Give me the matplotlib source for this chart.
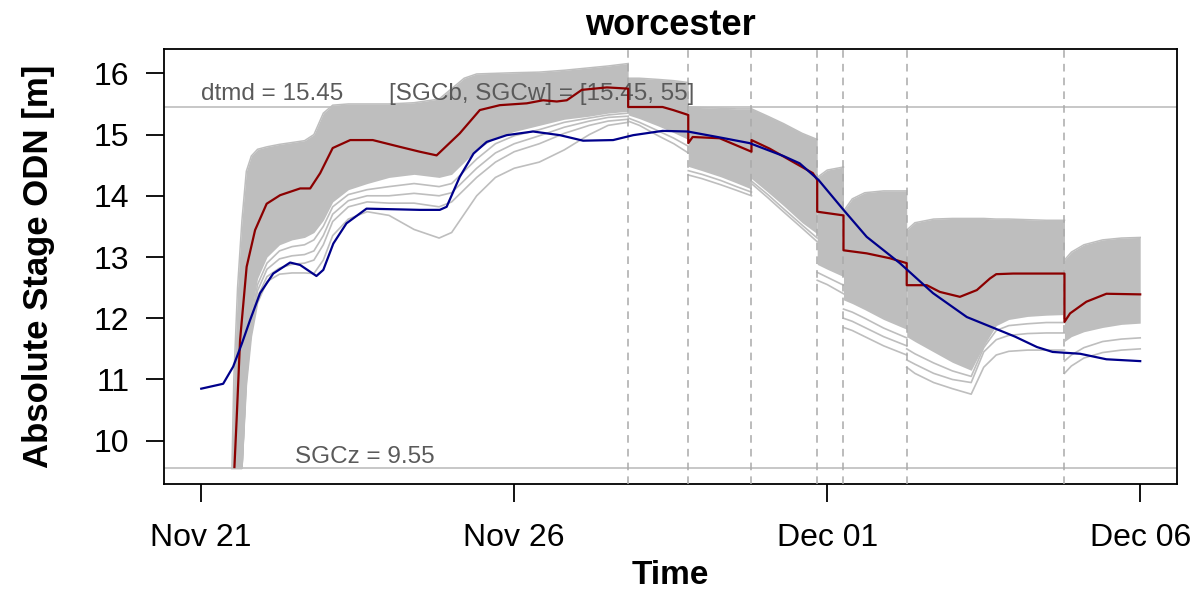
import numpy as np
import matplotlib
matplotlib.use('Agg')
from matplotlib import pyplot as plt
import matplotlib.dates as mdates
from datetime import datetime

plt.rcParams['font.family'] = ['Liberation Sans', 'DejaVu Sans']

start = datetime(2012, 11, 21)
tick_dates = [datetime(2012, 11, 21), datetime(2012, 11, 26), datetime(2012, 12, 1), datetime(2012, 12, 6)]

# days since Nov 21 00:00
forecast_days = [6.82, 7.78, 8.79, 9.84, 10.26, 11.27, 13.79]
dtmd = 15.45
sgcz = 9.55

# observed stage (blue)
obs_t = [0.0, 0.35, 0.51, 0.65, 0.78, 0.94, 1.15, 1.42, 1.58, 1.84, 1.95, 2.11, 2.32, 2.64, 3.07, 3.49,
         3.81, 3.92, 4.13, 4.35, 4.56, 4.88, 5.3, 5.73, 6.1, 6.58, 6.9, 7.37, 7.77, 8.3, 8.76, 9.3,
         9.56, 9.86, 10.26, 10.63, 11.16, 11.69, 12.23, 12.76, 13.0, 13.35, 13.6, 14.04, 14.46, 15.0]
obs_v = [10.85, 10.93, 11.21, 11.59, 11.97, 12.41, 12.73, 12.91, 12.87, 12.69, 12.79, 13.22, 13.55, 13.79, 13.78, 13.77,
         13.77, 13.82, 14.31, 14.69, 14.88, 14.99, 15.05, 14.99, 14.90, 14.91, 14.99, 15.06, 15.05, 14.95, 14.86, 14.65,
         14.53, 14.26, 13.77, 13.33, 12.9, 12.41, 12.02, 11.8, 11.7, 11.53, 11.45, 11.42, 11.33, 11.30]

# forecast median (red)
med_t = [0.53, 0.565, 0.62, 0.725, 0.86, 1.045, 1.26, 1.58, 1.74, 1.9, 2.1, 2.38, 2.74, 3.17, 3.49, 3.76,
         4.13, 4.45, 4.77, 5.2, 5.46, 5.68, 5.84, 6.08, 6.48, 6.82, 6.82, 7.11, 7.37, 7.54, 7.78, 7.78,
         7.85, 8.28, 8.79, 8.79, 9.08, 9.77, 9.84, 9.84, 10.26, 10.26, 10.63, 11.0, 11.27, 11.27, 11.59, 11.8,
         12.12, 12.39, 12.6, 12.7, 12.97, 13.79, 13.79, 13.88, 14.14, 14.46, 15.0]
med_v = [9.57, 10.34, 11.64, 12.84, 13.44, 13.87, 14.01, 14.12, 14.12, 14.37, 14.78, 14.91, 14.91, 14.80, 14.72, 14.66,
         15.02, 15.40, 15.48, 15.51, 15.56, 15.54, 15.56, 15.73, 15.77, 15.75, 15.45, 15.45, 15.45, 15.40, 15.32, 14.86,
         14.96, 14.94, 14.72, 14.91, 14.77, 14.37, 14.26, 13.74, 13.68, 13.11, 13.06, 12.98, 12.90, 12.54, 12.54, 12.43,
         12.35, 12.46, 12.65, 12.72, 12.73, 12.73, 11.94, 12.08, 12.27, 12.40, 12.39]

# ensemble forecasts: upper / lower edge of dense band, plus lower members
t0 = [0.49, 0.52, 0.58, 0.65, 0.72, 0.80, 0.90, 1.05, 1.25, 1.45, 1.65, 1.80, 1.95, 2.10, 2.35,
      2.65, 3.00, 3.40, 3.80, 4.00, 4.20, 4.40, 4.70, 5.00, 5.40, 5.80, 6.20, 6.50, 6.82]
up0 = [9.55, 11.0, 12.5, 13.6, 14.4, 14.65, 14.76, 14.80, 14.84, 14.87, 14.90, 15.0, 15.35, 15.48, 15.5,
       15.5, 15.5, 15.52, 15.58, 15.75, 15.92, 15.99, 16.0, 16.01, 16.02, 16.05, 16.09, 16.12, 16.16]
lo0 = [9.55, 9.55, 9.55, 9.55, 11.2, 12.1, 12.65, 13.0, 13.2, 13.28, 13.32, 13.4, 13.6, 13.9, 14.1,
       14.2, 14.3, 14.35, 14.3, 14.35, 14.55, 14.75, 14.95, 15.05, 15.15, 15.25, 15.3, 15.35, 15.38]
m0d = [9.55, 9.55, 9.55, 9.55, 11.15, 12.0, 12.55, 12.9, 13.1, 13.17, 13.2, 13.28, 13.5, 13.82, 14.02,
       14.1, 14.15, 14.2, 14.15, 14.2, 14.4, 14.6, 14.85, 14.98, 15.08, 15.2, 15.27, 15.32, 15.35]
m0c = [9.55, 9.55, 9.55, 9.55, 11.1, 11.9, 12.45, 12.8, 12.97, 13.02, 13.04, 13.1, 13.35, 13.7, 13.92,
       14.0, 14.0, 14.04, 14.0, 14.05, 14.25, 14.45, 14.7, 14.85, 14.98, 15.12, 15.22, 15.28, 15.3]
m0b = [9.55, 9.55, 9.55, 9.55, 11.0, 11.8, 12.35, 12.68, 12.82, 12.88, 12.9, 12.95, 13.2, 13.58, 13.82,
       13.9, 13.88, 13.88, 13.82, 13.9, 14.1, 14.3, 14.55, 14.72, 14.85, 15.02, 15.15, 15.22, 15.25]
m0a = [9.55, 9.55, 9.55, 9.55, 10.9, 11.7, 12.25, 12.6, 12.72, 12.74, 12.74, 12.73, 12.95, 13.35, 13.62,
       13.74, 13.68, 13.45, 13.31, 13.4, 13.7, 14.0, 14.3, 14.45, 14.55, 14.75, 15.0, 15.15, 15.2]

t1 = [6.82, 7.0, 7.3, 7.55, 7.78]
up1 = [15.92, 15.92, 15.9, 15.88, 15.85]
lo1 = [15.32, 15.26, 15.14, 15.03, 14.92]
m1a = [15.22, 15.15, 14.98, 14.85, 14.7]
m1b = [15.27, 15.2, 15.06, 14.94, 14.81]

t2 = [7.78, 8.0, 8.3, 8.55, 8.79]
up2 = [15.45, 15.44, 15.43, 15.42, 15.42]
lo2 = [14.48, 14.41, 14.31, 14.21, 14.11]
m2a = [14.34, 14.28, 14.18, 14.09, 14.0]
m2b = [14.41, 14.35, 14.25, 14.15, 14.06]

t3 = [8.79, 9.05, 9.3, 9.6, 9.84]
up3 = [15.42, 15.3, 15.18, 15.02, 14.92]
lo3 = [14.28, 14.06, 13.84, 13.56, 13.38]
m3a = [14.2, 13.97, 13.74, 13.47, 13.25]
m3b = [14.24, 14.02, 13.79, 13.52, 13.31]

t4 = [9.84, 10.0, 10.26]
up4 = [14.3, 14.42, 14.47]
lo4 = [12.88, 12.8, 12.68]
m4a = [12.62, 12.55, 12.4]
m4b = [12.75, 12.67, 12.54]

t5 = [10.26, 10.4, 10.6, 10.9, 11.27]
up5 = [13.75, 13.95, 14.05, 14.08, 14.08]
lo5 = [12.3, 12.24, 12.14, 11.98, 11.82]
m5a = [11.85, 11.8, 11.7, 11.55, 11.4]
m5b = [12.0, 11.95, 11.85, 11.7, 11.55]
m5c = [12.15, 12.1, 12.0, 11.84, 11.68]

t6 = [11.27, 11.4, 11.7, 12.0, 12.3, 12.5, 12.7, 12.9, 13.2, 13.5, 13.79]
up6 = [13.44, 13.56, 13.62, 13.63, 13.63, 13.63, 13.62, 13.62, 13.61, 13.6, 13.6]
lo6 = [11.7, 11.62, 11.45, 11.28, 11.15, 11.55, 11.88, 11.98, 12.03, 12.05, 12.06]
m6a = [11.2, 11.1, 10.95, 10.85, 10.76, 11.2, 11.4, 11.46, 11.48, 11.48, 11.48]
m6b = [11.32, 11.25, 11.1, 11.0, 10.95, 11.45, 11.65, 11.72, 11.75, 11.76, 11.76]
m6c = [11.5, 11.42, 11.27, 11.14, 11.05, 11.52, 11.8, 11.88, 11.91, 11.93, 11.93]

t7 = [13.79, 13.9, 14.1, 14.4, 14.7, 15.0]
up7 = [12.95, 13.08, 13.2, 13.28, 13.31, 13.32]
lo7 = [11.62, 11.7, 11.78, 11.85, 11.9, 11.92]
m7a = [11.1, 11.22, 11.35, 11.44, 11.48, 11.5]
m7b = [11.3, 11.4, 11.52, 11.62, 11.66, 11.68]

segments = [
    (t0, up0, lo0, [m0a, m0b, m0c, m0d]),
    (t1, up1, lo1, [m1a, m1b]),
    (t2, up2, lo2, [m2a, m2b]),
    (t3, up3, lo3, [m3a, m3b]),
    (t4, up4, lo4, [m4a, m4b]),
    (t5, up5, lo5, [m5a, m5b, m5c]),
    (t6, up6, lo6, [m6a, m6b, m6c]),
    (t7, up7, lo7, [m7a, m7b]),
]

t_ref = mdates.date2num(start)
def to_date(days):
    return t_ref + np.array(days)

fig = plt.figure(figsize=(12.02, 5.92), dpi=100)
ax = fig.add_axes([0.1367, 0.1819, 0.8421, 0.7353])

ens_col = '#BEBEBE'
ax.axhline(dtmd, color=ens_col, lw=1.2, zorder=1)
ax.axhline(sgcz, color=ens_col, lw=1.2, zorder=1)

for t, up, lo, members in segments:
    x = to_date(t)
    ax.fill_between(x, lo, up, color=ens_col, lw=0, zorder=2)
    ax.plot(x, up, color=ens_col, lw=1.1, zorder=2)
    for m in members:
        ax.plot(x, m, color=ens_col, lw=1.2, zorder=2)

for d in forecast_days:
    ax.axvline(t_ref + d, color='#AAAAAA', lw=1.1, ls=(0, (5, 4)), zorder=3)

txt_col = '#5A5A5A'
ax.annotate('dtmd = 15.45', (t_ref + 0.0, dtmd), xytext=(0, 5), textcoords='offset points',
            ha='left', va='baseline', fontsize=17.5, color=txt_col, zorder=4)
ax.annotate('[SGCb, SGCw] = [15.45, 55]', (t_ref + 3.0, dtmd), xytext=(0, 5), textcoords='offset points',
            ha='left', va='baseline', fontsize=17.5, color=txt_col, zorder=4)
ax.annotate('SGCz = 9.55', (t_ref + 1.5, sgcz), xytext=(0, 4), textcoords='offset points',
            ha='left', va='baseline', fontsize=17.5, color=txt_col, zorder=4)

ax.plot(to_date(med_t), med_v, color='#8B0000', lw=1.6, zorder=5)
ax.plot(to_date(obs_t), obs_v, color='#00008B', lw=1.6, zorder=6)

ax.set_xlim(t_ref - 0.59, t_ref + 15.58)
ax.set_ylim(9.288, 16.397)
ax.set_xticks(mdates.date2num(tick_dates))
ax.xaxis.set_major_formatter(mdates.DateFormatter('%b %d'))
ax.set_yticks([10, 11, 12, 13, 14, 15, 16])
ax.tick_params(axis='both', length=13, width=1.3, labelsize=23, direction='out')
ax.tick_params(axis='x', pad=15)
ax.tick_params(axis='y', pad=12)
for s in ax.spines.values():
    s.set_linewidth(1.3)

ax.set_title('worcester', fontsize=26, fontweight='bold', pad=10)
ax.set_xlabel('Time', fontsize=24, fontweight='bold', labelpad=5)
ax.set_ylabel('Absolute Stage ODN [m]', fontsize=25, fontweight='bold', labelpad=28)

fig.savefig('out.png', dpi=100)
